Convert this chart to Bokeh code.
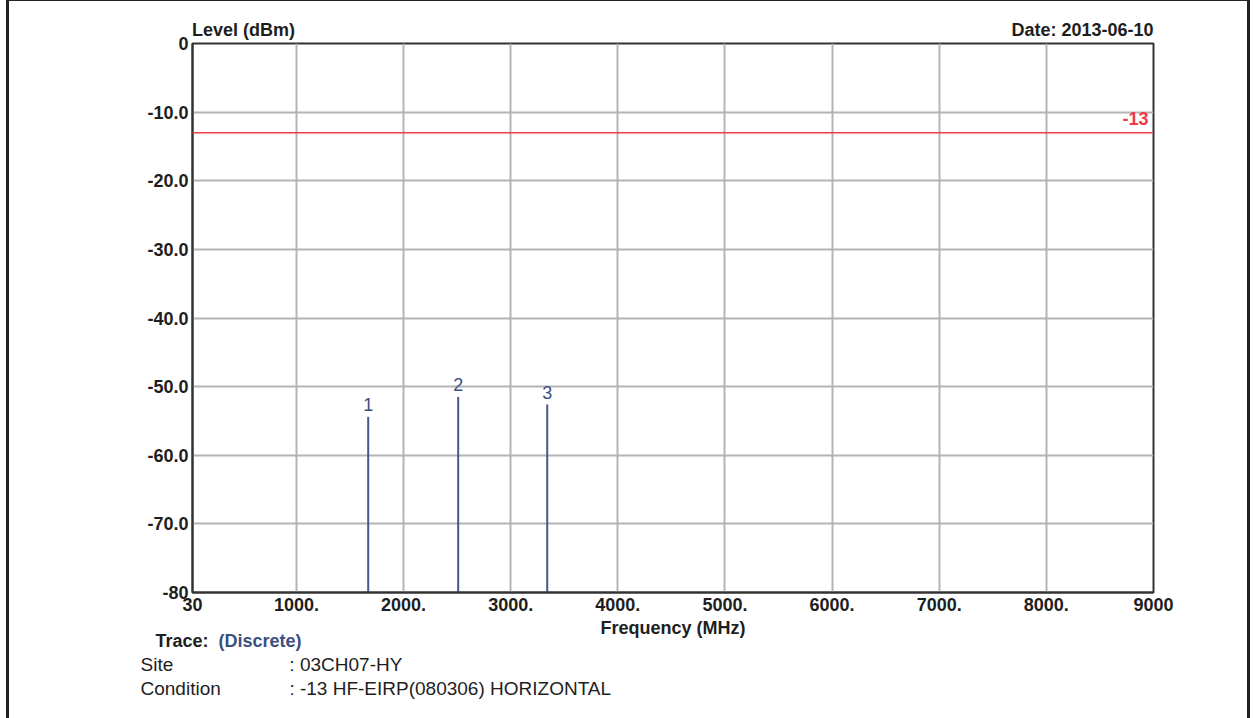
from bokeh.plotting import figure
from bokeh.models import Range1d, Span, Label, FixedTicker, Title, LinearAxis
from bokeh.core.properties import value
from bokeh.embed import file_html
from bokeh.resources import INLINE

# ---- data ----
marker_ids = ["1", "2", "3"]
marker_freq_mhz = [1670, 2510, 3341]
marker_level_dbm = [-54.4, -51.5, -52.6]
limit_dbm = -13

x_ticks = [30, 1000, 2000, 3000, 4000, 5000, 6000, 7000, 8000, 9000]
x_tick_labels = ["30", "1000.", "2000.", "3000.", "4000.", "5000.", "6000.", "7000.", "8000.", "9000"]
y_ticks = [0, -10, -20, -30, -40, -50, -60, -70, -80]
y_tick_labels = ["0", "-10.0", "-20.0", "-30.0", "-40.0", "-50.0", "-60.0", "-70.0", "-80"]

header_texts = ["Level (dBm)", "Date: 2013-06-10"]
trace_label = "Trace:"
trace_name = "(Discrete)"
site_text = "Site" + "\u00a0" * 22 + ": 03CH07-HY"
condition_text = "Condition" + "\u00a0" * 13 + ": -13 HF-EIRP(080306) HORIZONTAL"

FONT = "Liberation Sans"
DARK = "#1e1e1e"
BLUE = "#3c4f7e"
STEM = "#42598a"
RED = "#ee3b48"

p = figure(
    frame_width=961, frame_height=549,
    min_border_left=183, min_border_right=94, min_border_top=42, min_border_bottom=126,
    x_range=Range1d(30, 9000), y_range=Range1d(-80, 0),
    output_backend="svg", toolbar_location=None,
)
p.styles = {"margin-left": "6px", "border-left": "3px solid #222",
            "border-right": "3px solid #222", "border-top": "1px solid #222"}
p.background_fill_color = "white"
p.border_fill_color = "white"
p.outline_line_color = "#333333"
p.outline_line_width = 2

# axes
xax = p.below[0]
yax = p.left[0]
xax.ticker = FixedTicker(ticks=x_ticks)
yax.ticker = FixedTicker(ticks=y_ticks)
xax.major_label_overrides = dict(zip(x_ticks, x_tick_labels))
yax.major_label_overrides = dict(zip(y_ticks, y_tick_labels))
for ax in (xax, yax):
    ax.major_tick_in = 0
    ax.major_tick_out = 0
    ax.minor_tick_in = 0
    ax.minor_tick_out = 0
    ax.axis_line_color = "#333333"
    ax.axis_line_width = 2
    ax.major_label_text_font = FONT
    ax.major_label_text_font_style = "bold"
    ax.major_label_text_font_size = "18px"
    ax.major_label_text_color = DARK
yax.major_label_standoff = 4
xax.major_label_standoff = 5
xax.axis_label = "Frequency (MHz)"
xax.axis_label_text_font = FONT
xax.axis_label_text_font_style = "bold"
xax.axis_label_text_font_size = "18px"
xax.axis_label_text_color = DARK
xax.axis_label_standoff = 4

p.xgrid.grid_line_color = "#b4b4b4"
p.ygrid.grid_line_color = "#b4b4b4"
p.xgrid.grid_line_width = 2
p.ygrid.grid_line_width = 2

# header row (y-axis title and date) as labels of a bare axis above the frame
header_pos = [506, 8338]
top_axis = LinearAxis(ticker=FixedTicker(ticks=header_pos),
                      major_label_overrides=dict(zip(header_pos, header_texts)),
                      axis_line_color=None, major_tick_in=0, major_tick_out=0,
                      minor_tick_in=0, minor_tick_out=0, major_label_standoff=4,
                      major_label_text_font=FONT, major_label_text_font_style="bold",
                      major_label_text_font_size="18px", major_label_text_color=DARK)
p.add_layout(top_axis, "above")

# limit line
p.add_layout(Span(location=limit_dbm, dimension="width", line_color=RED, line_width=1.5))
p.add_layout(Label(x=9000, y=limit_dbm, text=str(limit_dbm), text_align="right",
                   text_baseline="bottom", x_offset=-5, y_offset=8, text_color=RED,
                   text_font=FONT, text_font_style="bold", text_font_size="18px"))

# discrete markers
p.segment(x0=marker_freq_mhz, y0=[-80] * len(marker_freq_mhz), x1=marker_freq_mhz,
          y1=marker_level_dbm, line_color=STEM, line_width=2)
p.text(x=marker_freq_mhz, y=marker_level_dbm, text=marker_ids, text_align="center",
       text_baseline="middle", y_offset=-12, text_color=BLUE,
       text_font=value(FONT), text_font_size="18px")

# footer rows
def footer(text, offset, standoff, color=DARK, bold=True, size="18px"):
    p.add_layout(Title(text=text, align="left", vertical_align="middle", offset=offset,
                       standoff=standoff, text_font=FONT, text_color=color,
                       text_font_style="bold" if bold else "normal",
                       text_font_size=size), "below")

footer(trace_label, -37, -22.7)
footer(trace_name, 26, -22.7, color=BLUE)
footer(site_text, -52, 25, bold=False, size="19px")
footer(condition_text, -52, -23.9, bold=False, size="19px")

open("out.html", "w").write(file_html(p, INLINE))
